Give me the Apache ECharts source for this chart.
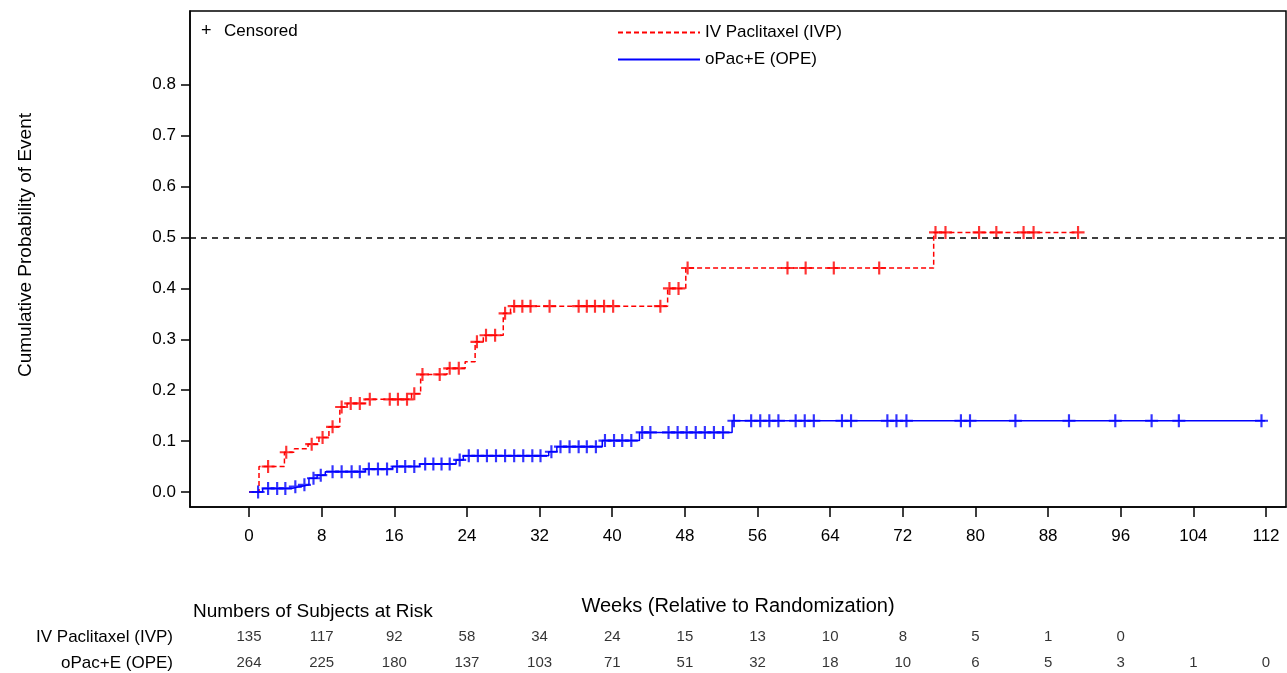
<!DOCTYPE html>
<html>
<head>
<meta charset="utf-8">
<script src="https://cdn.jsdelivr.net/npm/echarts@6/dist/echarts.min.js"></script>
<style>
  html, body { margin: 0; padding: 0; background: #fff; }
  #chart { width: 1287px; height: 673px; }
</style>
</head>
<body>
<div id="chart"></div>
<script>
// IV Paclitaxel (IVP): week where the curve steps, and the value after the step
var ivpStepWeeks = [0, 1.1, 3.9, 5.0, 6.5, 7.7, 8.8, 10.0, 10.8, 12.8, 17.9, 18.9, 21.8, 23.8, 24.9, 25.8, 28.0, 28.8, 46.1, 48.1, 75.4];
var ivpStepProb = [0, 0.05, 0.078, 0.085, 0.094, 0.107, 0.128, 0.167, 0.174, 0.182, 0.193, 0.231, 0.243, 0.256, 0.295, 0.308, 0.351, 0.365, 0.40, 0.44, 0.51];
var ivpLastWeek = 91.3;
var ivpCensorWeeks = [2.1, 4.1, 6.9, 8.1, 9.2, 10.2, 11.2, 12.2, 13.3, 15.5, 16.4, 17.4, 18.2, 19.1, 21.0, 22.1, 23.1,
    25.1, 26.1, 27.1, 28.2, 29.2, 30.1, 31.0, 33.1, 36.3, 37.2, 38.1, 39.1, 40.1, 45.3, 46.3, 47.3, 48.3,
    59.3, 61.3, 64.4, 69.4, 75.6, 76.7, 80.4, 82.3, 85.3, 86.4, 91.3];

// oPac+E (OPE)
var opeStepWeeks = [0, 1.5, 4.7, 5.6, 6.6, 7.5, 8.4, 12.8, 15.8, 18.8, 22.8, 23.6, 33.0, 33.9, 38.9, 43.0, 53.2];
var opeStepProb = [0, 0.007, 0.0105, 0.014, 0.027, 0.033, 0.04, 0.045, 0.05, 0.055, 0.063, 0.071, 0.079, 0.089, 0.101, 0.117, 0.14];
var opeLastWeek = 111.9;
var opeCensorWeeks = [1.0, 2.1, 3.1, 4.0, 5.1, 6.1, 7.1, 7.9, 9.2, 10.2, 11.3, 12.2, 13.2, 14.2, 15.2, 16.3, 17.2, 18.2,
    19.4, 20.3, 21.2, 22.1, 23.2, 24.2, 25.2, 26.2, 27.2, 28.2, 29.2, 30.2, 31.2, 32.1, 33.3, 34.3, 35.3, 36.3,
    37.2, 38.2, 39.2, 40.2, 41.1, 42.1, 43.3, 44.2, 46.2, 47.2, 48.2, 49.2, 50.2, 51.2, 52.2, 53.4, 55.3, 56.3,
    57.3, 58.3, 60.2, 61.2, 62.2, 65.3, 66.3, 70.3, 71.3, 72.4, 78.4, 79.4, 84.4, 90.3, 95.4, 99.4, 102.4, 111.5];

// x ticks and numbers at risk
var weekTicks = [0, 8, 16, 24, 32, 40, 48, 56, 64, 72, 80, 88, 96, 104, 112];
var probTicks = [0, 0.1, 0.2, 0.3, 0.4, 0.5, 0.6, 0.7, 0.8];
var ivpAtRisk = [135, 117, 92, 58, 34, 24, 15, 13, 10, 8, 5, 1, 0];
var opeAtRisk = [264, 225, 180, 137, 103, 71, 51, 32, 18, 10, 6, 5, 3, 1, 0];

var FONT = 'Liberation Sans, Arial, sans-serif';
var XMIN = -6.5, XMAX = 114.2;

function stepLine(weeks, probs, last) {
    var d = [];
    for (var i = 0; i < weeks.length; i++) {
        d.push([weeks[i], probs[i]]);
    }
    d.push([last, probs[probs.length - 1]]);
    return d;
}
function probAt(weeks, probs, t) {
    var v = 0;
    for (var i = 0; i < weeks.length; i++) {
        if (weeks[i] <= t) v = probs[i];
    }
    return v;
}
function censorPoints(cw, weeks, probs) {
    return cw.map(function (t) { return [t, probAt(weeks, probs, t)]; });
}
function riskPoints(counts) {
    return counts.map(function (c, i) { return [weekTicks[i], 0, c]; });
}

// plus sign, filled
var plusPath = 'path://M5,0H7V5H12V7H7V12H5V7H0V5H5Z';

const myCharts = echarts.init(document.getElementById('chart'));
var option = {
    animation: false,
    textStyle: { fontFamily: FONT },
    grid: [
        { left: 190, right: 1, top: 11, height: 496, show: true, borderColor: '#000', borderWidth: 1.5, backgroundColor: 'transparent' },
        { left: 190, right: 1, top: 629, height: 16 },
        { left: 190, right: 1, top: 655, height: 16 }
    ],
    legend: {
        orient: 'vertical',
        left: 612,
        top: 19,
        itemWidth: 82,
        itemHeight: 14,
        itemGap: 10,
        data: ['IV Paclitaxel (IVP)', 'oPac+E (OPE)'],
        itemStyle: { opacity: 0 },
        textStyle: { fontFamily: FONT, fontSize: 17, color: '#000' }
    },
    graphic: [
        { type: 'text', left: 201, top: 22, style: { text: '+', font: '18px ' + FONT, fill: '#000' } },
        { type: 'text', left: 224, top: 23, style: { text: 'Censored', font: '17px ' + FONT, fill: '#000' } },
        { type: 'text', left: 193, top: 602, style: { text: 'Numbers of Subjects at Risk', font: '19px ' + FONT, fill: '#000' } }
    ],
    xAxis: [
        {
            gridIndex: 0, type: 'value', min: XMIN, max: XMAX,
            name: 'Weeks (Relative to Randomization)', nameLocation: 'middle', nameGap: 89,
            nameTextStyle: { fontSize: 20, color: '#000', fontFamily: FONT },
            axisLine: { show: true, onZero: false, lineStyle: { color: '#000', width: 1.5 } },
            axisTick: { show: true, customValues: weekTicks, length: 10, lineStyle: { color: '#000', width: 1.5 } },
            axisLabel: { customValues: weekTicks, fontSize: 17, color: '#000', margin: 21, fontFamily: FONT },
            splitLine: { show: false }
        },
        { gridIndex: 1, type: 'value', min: XMIN, max: XMAX, show: false },
        { gridIndex: 2, type: 'value', min: XMIN, max: XMAX, show: false }
    ],
    yAxis: [
        {
            gridIndex: 0, type: 'value', min: -0.0295, max: 0.945,
            name: 'Cumulative Probability of Event', nameLocation: 'middle', nameGap: 155, nameRotate: 90,
            nameTextStyle: { fontSize: 19, color: '#000', fontFamily: FONT, padding: [0, 0, 0, 28] },
            axisLine: { show: true, onZero: false, lineStyle: { color: '#000', width: 1.5 } },
            axisTick: { show: true, customValues: probTicks, length: 9, lineStyle: { color: '#000', width: 1.5 } },
            axisLabel: {
                customValues: probTicks, fontSize: 17, color: '#000', margin: 14, fontFamily: FONT,
                formatter: function (v) { return v.toFixed(1); }
            },
            splitLine: { show: false }
        },
        {
            gridIndex: 1, type: 'category', data: ['IV Paclitaxel (IVP)'],
            axisLine: { show: false }, axisTick: { show: false },
            axisLabel: { fontSize: 17, color: '#000', margin: 17, fontFamily: FONT }
        },
        {
            gridIndex: 2, type: 'category', data: ['oPac+E (OPE)'],
            axisLine: { show: false }, axisTick: { show: false },
            axisLabel: { fontSize: 17, color: '#000', margin: 17, fontFamily: FONT }
        }
    ],
    series: [
        {
            name: 'IV Paclitaxel (IVP)', type: 'line', step: 'end', symbol: 'none',
            xAxisIndex: 0, yAxisIndex: 0,
            lineStyle: { color: '#ff0000', width: 1.5, type: [5, 3] },
            itemStyle: { color: '#ff0000' },
            data: stepLine(ivpStepWeeks, ivpStepProb, ivpLastWeek),
            markLine: {
                silent: true, symbol: 'none', label: { show: false },
                lineStyle: { color: '#000', type: [6, 5], width: 1.5 },
                data: [{ yAxis: 0.5 }]
            },
            z: 3
        },
        {
            name: 'oPac+E (OPE)', type: 'line', step: 'end', symbol: 'none',
            xAxisIndex: 0, yAxisIndex: 0,
            lineStyle: { color: '#0000ff', width: 1.5, type: 'solid' },
            itemStyle: { color: '#0000ff' },
            data: stepLine(opeStepWeeks, opeStepProb, opeLastWeek),
            z: 3
        },
        {
            name: 'IVP censored', type: 'scatter', symbol: plusPath, symbolSize: 13,
            xAxisIndex: 0, yAxisIndex: 0,
            itemStyle: { color: '#ff0000' },
            data: censorPoints(ivpCensorWeeks, ivpStepWeeks, ivpStepProb),
            z: 4
        },
        {
            name: 'OPE censored', type: 'scatter', symbol: plusPath, symbolSize: 13,
            xAxisIndex: 0, yAxisIndex: 0,
            itemStyle: { color: '#0000ff' },
            data: censorPoints(opeCensorWeeks, opeStepWeeks, opeStepProb),
            z: 4
        },
        {
            name: 'IVP at risk', type: 'scatter', xAxisIndex: 1, yAxisIndex: 1,
            symbolSize: 1, itemStyle: { color: 'transparent' },
            label: {
                show: true, position: 'inside', fontSize: 15, color: '#000',
                fontFamily: 'Liberation Sans Narrow, ' + FONT,
                formatter: function (p) { return p.value[2]; }
            },
            data: riskPoints(ivpAtRisk)
        },
        {
            name: 'OPE at risk', type: 'scatter', xAxisIndex: 2, yAxisIndex: 2,
            symbolSize: 1, itemStyle: { color: 'transparent' },
            label: {
                show: true, position: 'inside', fontSize: 15, color: '#000',
                fontFamily: 'Liberation Sans Narrow, ' + FONT,
                formatter: function (p) { return p.value[2]; }
            },
            data: riskPoints(opeAtRisk)
        }
    ]
};
myCharts.setOption(option);
</script>
</body>
</html>
